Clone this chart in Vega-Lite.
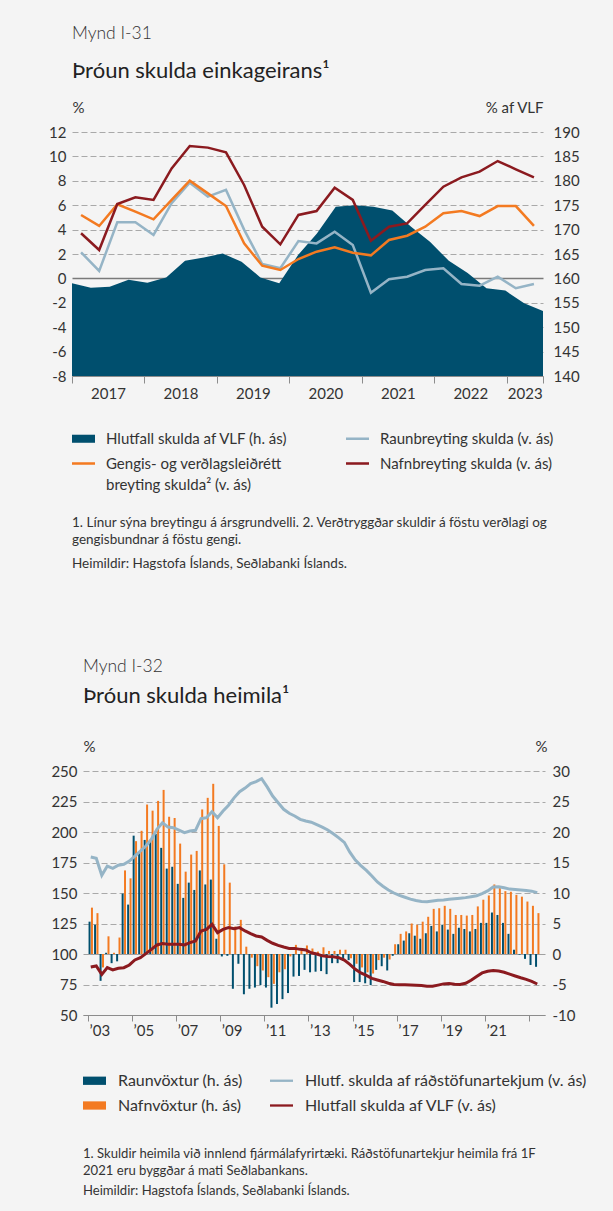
{
  "$schema": "https://vega.github.io/schema/vega-lite/v6.json",
  "background": "#f4f4f4",
  "padding": {"left": 48, "top": 24, "right": 40, "bottom": 40},
  "config": {
    "font": "Lato",
    "view": {"stroke": null},
    "locale": {"number": {"decimal": ".", "thousands": ",", "grouping": [3], "currency": ["", ""], "minus": "-"}},
    "axis": {"grid": false, "labelColor": "#333333", "titleColor": "#333333", "labelFontSize": 15, "titleFontSize": 15, "titleFontWeight": "normal", "labelOverlap": false},
    "legend": {"labelColor": "#333333", "labelFontSize": 15, "labelLimit": 400}
  },
  "datasets": {
    "p1": [
      {"q": "2017Q1", "t": 2017.125, "gdp": 159.0, "real": 2.14, "adj": 5.20, "nom": 3.70},
      {"q": "2017Q2", "t": 2017.375, "gdp": 158.1, "real": 0.61, "adj": 4.30, "nom": 2.33},
      {"q": "2017Q3", "t": 2017.625, "gdp": 158.3, "real": 4.60, "adj": 6.07, "nom": 6.10},
      {"q": "2017Q4", "t": 2017.875, "gdp": 159.7, "real": 4.60, "adj": 5.47, "nom": 6.65},
      {"q": "2018Q1", "t": 2018.125, "gdp": 159.1, "real": 3.56, "adj": 4.84, "nom": 6.43},
      {"q": "2018Q2", "t": 2018.375, "gdp": 160.2, "real": 6.16, "adj": 6.43, "nom": 9.02},
      {"q": "2018Q3", "t": 2018.625, "gdp": 163.6, "real": 7.84, "adj": 8.01, "nom": 10.85},
      {"q": "2018Q4", "t": 2018.875, "gdp": 164.3, "real": 6.70, "adj": 6.97, "nom": 10.72},
      {"q": "2019Q1", "t": 2019.125, "gdp": 165.1, "real": 7.25, "adj": 5.93, "nom": 10.33},
      {"q": "2019Q2", "t": 2019.375, "gdp": 163.4, "real": 4.00, "adj": 2.87, "nom": 7.66},
      {"q": "2019Q3", "t": 2019.625, "gdp": 160.2, "real": 1.18, "adj": 1.04, "nom": 4.24},
      {"q": "2019Q4", "t": 2019.875, "gdp": 159.0, "real": 0.83, "adj": 0.69, "nom": 2.79},
      {"q": "2020Q1", "t": 2020.125, "gdp": 164.8, "real": 3.06, "adj": 1.59, "nom": 5.20},
      {"q": "2020Q2", "t": 2020.375, "gdp": 169.2, "real": 2.87, "adj": 2.19, "nom": 5.52},
      {"q": "2020Q3", "t": 2020.625, "gdp": 174.7, "real": 3.83, "adj": 2.55, "nom": 7.44},
      {"q": "2020Q4", "t": 2020.875, "gdp": 175.0, "real": 2.74, "adj": 2.11, "nom": 6.43},
      {"q": "2021Q1", "t": 2021.125, "gdp": 174.7, "real": -1.17, "adj": 1.89, "nom": 3.09},
      {"q": "2021Q2", "t": 2021.375, "gdp": 173.9, "real": -0.07, "adj": 3.15, "nom": 4.24},
      {"q": "2021Q3", "t": 2021.625, "gdp": 170.6, "real": 0.14, "adj": 3.50, "nom": 4.51},
      {"q": "2021Q4", "t": 2021.875, "gdp": 167.5, "real": 0.69, "adj": 4.24, "nom": 6.02},
      {"q": "2022Q1", "t": 2022.125, "gdp": 163.6, "real": 0.83, "adj": 5.34, "nom": 7.52},
      {"q": "2022Q2", "t": 2022.375, "gdp": 161.1, "real": -0.46, "adj": 5.52, "nom": 8.28},
      {"q": "2022Q3", "t": 2022.625, "gdp": 158.0, "real": -0.60, "adj": 5.11, "nom": 8.75},
      {"q": "2022Q4", "t": 2022.875, "gdp": 157.5, "real": 0.14, "adj": 5.93, "nom": 9.62},
      {"q": "2023Q1", "t": 2023.125, "gdp": 154.9, "real": -0.81, "adj": 5.93, "nom": 8.94},
      {"q": "2023Q2", "t": 2023.375, "gdp": 153.3, "real": -0.46, "adj": 4.30, "nom": 8.28}
    ],
    "p2": [
      {"t": 2003.125, "rv": 5.3, "nv": 7.6, "hr": 179.5, "vlf": 89.3},
      {"t": 2003.375, "rv": 4.8, "nv": 6.7, "hr": 178.4, "vlf": 90.2},
      {"t": 2003.625, "rv": -4.4, "nv": -2.2, "hr": 164.5, "vlf": 83.3},
      {"t": 2003.875, "rv": 0.2, "nv": 2.9, "hr": 172.1, "vlf": 88.8},
      {"t": 2004.125, "rv": -1.5, "nv": 0.2, "hr": 170.2, "vlf": 86.9},
      {"t": 2004.375, "rv": -1.2, "nv": 2.7, "hr": 172.7, "vlf": 88.3},
      {"t": 2004.625, "rv": 9.9, "nv": 13.7, "hr": 173.5, "vlf": 88.8},
      {"t": 2004.875, "rv": 8.1, "nv": 12.4, "hr": 176.2, "vlf": 91.0},
      {"t": 2005.125, "rv": 19.4, "nv": 18.5, "hr": 180.3, "vlf": 95.1},
      {"t": 2005.375, "rv": 16.8, "nv": 20.2, "hr": 184.4, "vlf": 97.0},
      {"t": 2005.625, "rv": 18.7, "nv": 24.5, "hr": 188.5, "vlf": 100.3},
      {"t": 2005.875, "rv": 18.7, "nv": 23.5, "hr": 194.0, "vlf": 103.8},
      {"t": 2006.125, "rv": 19.7, "nv": 25.1, "hr": 202.2, "vlf": 107.4},
      {"t": 2006.375, "rv": 17.4, "nv": 26.9, "hr": 207.6, "vlf": 108.5},
      {"t": 2006.625, "rv": 14.0, "nv": 22.5, "hr": 204.1, "vlf": 108.0},
      {"t": 2006.875, "rv": 14.3, "nv": 22.3, "hr": 203.5, "vlf": 108.0},
      {"t": 2007.125, "rv": 11.5, "nv": 18.1, "hr": 201.6, "vlf": 108.0},
      {"t": 2007.375, "rv": 9.2, "nv": 13.5, "hr": 199.5, "vlf": 107.4},
      {"t": 2007.625, "rv": 11.7, "nv": 16.3, "hr": 200.8, "vlf": 109.3},
      {"t": 2007.875, "rv": 10.5, "nv": 16.9, "hr": 201.4, "vlf": 110.7},
      {"t": 2008.125, "rv": 13.7, "nv": 23.7, "hr": 210.9, "vlf": 118.9},
      {"t": 2008.375, "rv": 11.4, "nv": 25.6, "hr": 211.7, "vlf": 120.2},
      {"t": 2008.625, "rv": 12.2, "nv": 27.9, "hr": 216.6, "vlf": 124.3},
      {"t": 2008.875, "rv": 2.5, "nv": 21.0, "hr": 211.7, "vlf": 117.5},
      {"t": 2009.125, "rv": -0.4, "nv": 14.7, "hr": 217.2, "vlf": 120.2},
      {"t": 2009.375, "rv": -0.3, "nv": 11.7, "hr": 222.0, "vlf": 121.6},
      {"t": 2009.625, "rv": -5.7, "nv": 4.5, "hr": 228.0, "vlf": 120.7},
      {"t": 2009.875, "rv": -1.6, "nv": 5.6, "hr": 233.0, "vlf": 121.6},
      {"t": 2010.125, "rv": -6.6, "nv": 1.2, "hr": 236.0, "vlf": 118.9},
      {"t": 2010.375, "rv": -5.7, "nv": -0.6, "hr": 239.6, "vlf": 116.7},
      {"t": 2010.625, "rv": -5.5, "nv": -2.0, "hr": 241.3, "vlf": 114.8},
      {"t": 2010.875, "rv": -5.1, "nv": -2.7, "hr": 243.7, "vlf": 114.0},
      {"t": 2011.125, "rv": -5.5, "nv": -3.8, "hr": 237.0, "vlf": 111.2},
      {"t": 2011.375, "rv": -8.8, "nv": -4.9, "hr": 229.5, "vlf": 108.8},
      {"t": 2011.625, "rv": -8.2, "nv": -3.0, "hr": 224.0, "vlf": 107.1},
      {"t": 2011.875, "rv": -7.4, "nv": -2.5, "hr": 218.6, "vlf": 105.7},
      {"t": 2012.125, "rv": -6.4, "nv": -0.4, "hr": 215.3, "vlf": 104.6},
      {"t": 2012.375, "rv": -3.7, "nv": 1.5, "hr": 213.1, "vlf": 104.6},
      {"t": 2012.625, "rv": -3.6, "nv": 0.5, "hr": 210.4, "vlf": 103.8},
      {"t": 2012.875, "rv": -2.6, "nv": 1.4, "hr": 209.0, "vlf": 103.3},
      {"t": 2013.125, "rv": -3.0, "nv": 0.9, "hr": 208.0, "vlf": 101.0},
      {"t": 2013.375, "rv": -2.9, "nv": 0.4, "hr": 206.0, "vlf": 100.0},
      {"t": 2013.625, "rv": -2.8, "nv": 1.1, "hr": 204.0, "vlf": 98.5},
      {"t": 2013.875, "rv": -3.3, "nv": 0.5, "hr": 201.6, "vlf": 98.0},
      {"t": 2014.125, "rv": -1.5, "nv": 0.5, "hr": 198.5, "vlf": 97.7},
      {"t": 2014.375, "rv": -1.5, "nv": 0.7, "hr": 195.2, "vlf": 97.0},
      {"t": 2014.625, "rv": -1.1, "nv": 0.7, "hr": 191.5, "vlf": 95.0},
      {"t": 2014.875, "rv": -1.0, "nv": -0.7, "hr": 183.5, "vlf": 91.5},
      {"t": 2015.125, "rv": -4.6, "nv": -1.6, "hr": 177.0, "vlf": 87.5},
      {"t": 2015.375, "rv": -4.6, "nv": -2.2, "hr": 172.5, "vlf": 84.5},
      {"t": 2015.625, "rv": -4.8, "nv": -3.0, "hr": 168.5, "vlf": 82.5},
      {"t": 2015.875, "rv": -5.1, "nv": -3.2, "hr": 164.0, "vlf": 80.0},
      {"t": 2016.125, "rv": -2.6, "nv": -1.0, "hr": 159.0, "vlf": 78.7},
      {"t": 2016.375, "rv": -2.0, "nv": -0.6, "hr": 155.5, "vlf": 77.5},
      {"t": 2016.625, "rv": -2.7, "nv": -0.9, "hr": 152.5, "vlf": 76.0},
      {"t": 2016.875, "rv": -0.3, "nv": 1.6, "hr": 150.0, "vlf": 75.0},
      {"t": 2017.125, "rv": 1.6, "nv": 3.3, "hr": 148.0, "vlf": 74.8},
      {"t": 2017.375, "rv": 2.2, "nv": 3.7, "hr": 146.5, "vlf": 74.7},
      {"t": 2017.625, "rv": 3.4, "nv": 5.0, "hr": 145.0, "vlf": 74.5},
      {"t": 2017.875, "rv": 3.0, "nv": 4.8, "hr": 143.8, "vlf": 74.3},
      {"t": 2018.125, "rv": 2.5, "nv": 5.3, "hr": 143.0, "vlf": 74.1},
      {"t": 2018.375, "rv": 3.4, "nv": 6.1, "hr": 142.9, "vlf": 73.6},
      {"t": 2018.625, "rv": 4.6, "nv": 7.4, "hr": 143.5, "vlf": 73.5},
      {"t": 2018.875, "rv": 3.7, "nv": 7.5, "hr": 144.0, "vlf": 74.5},
      {"t": 2019.125, "rv": 4.8, "nv": 7.9, "hr": 144.3, "vlf": 75.5},
      {"t": 2019.375, "rv": 4.0, "nv": 7.4, "hr": 144.8, "vlf": 75.8},
      {"t": 2019.625, "rv": 3.3, "nv": 6.4, "hr": 145.2, "vlf": 75.2},
      {"t": 2019.875, "rv": 4.3, "nv": 6.4, "hr": 145.7, "vlf": 75.0},
      {"t": 2020.125, "rv": 4.1, "nv": 6.3, "hr": 146.2, "vlf": 76.0},
      {"t": 2020.375, "rv": 3.7, "nv": 6.4, "hr": 147.0, "vlf": 78.5},
      {"t": 2020.625, "rv": 4.1, "nv": 7.8, "hr": 147.8, "vlf": 81.5},
      {"t": 2020.875, "rv": 5.1, "nv": 8.9, "hr": 149.5, "vlf": 84.5},
      {"t": 2021.125, "rv": 5.1, "nv": 9.6, "hr": 151.7, "vlf": 85.9},
      {"t": 2021.375, "rv": 6.8, "nv": 11.4, "hr": 154.9, "vlf": 86.5},
      {"t": 2021.625, "rv": 6.4, "nv": 10.8, "hr": 155.2, "vlf": 86.0},
      {"t": 2021.875, "rv": 5.1, "nv": 10.3, "hr": 154.3, "vlf": 85.0},
      {"t": 2022.125, "rv": 3.3, "nv": 10.2, "hr": 153.2, "vlf": 83.5},
      {"t": 2022.375, "rv": 0.7, "nv": 9.7, "hr": 152.8, "vlf": 82.0},
      {"t": 2022.625, "rv": -0.1, "nv": 9.4, "hr": 152.4, "vlf": 80.5},
      {"t": 2022.875, "rv": -0.8, "nv": 8.6, "hr": 152.0, "vlf": 79.2},
      {"t": 2023.125, "rv": -1.8, "nv": 7.9, "hr": 151.5, "vlf": 77.5},
      {"t": 2023.375, "rv": -2.1, "nv": 6.7, "hr": 150.3, "vlf": 75.4}
    ]
  },
  "spacing": 87,
  "resolve": {"scale": {"color": "independent"}, "legend": {"color": "independent"}},
  "vconcat": [
    {
      "title": {"text": "Mynd I-31", "subtitle": "Þróun skulda einkageirans¹", "anchor": "start", "frame": "group", "fontSize": 17.5, "fontWeight": 300, "color": "#333333", "subtitleFontSize": 22, "subtitleColor": "#222222", "subtitlePadding": 19, "offset": 18},
      "resolve": {"scale": {"color": "independent"}, "legend": {"color": "independent"}},
      "vconcat": [
        {
          "title": {"text": ["1. Línur sýna breytingu á ársgrundvelli. 2. Verðtryggðar skuldir á föstu verðlagi og", "gengisbundnar á föstu gengi."], "subtitle": "Heimildir: Hagstofa Íslands, Seðlabanki Íslands.", "orient": "bottom", "anchor": "start", "frame": "group", "fontSize": 13.5, "fontWeight": "normal", "lineHeight": 17, "color": "#333333", "subtitleFontSize": 13.5, "subtitleColor": "#333333", "subtitlePadding": 10, "offset": 23},
          "resolve": {"scale": {"color": "independent"}, "legend": {"color": "independent"}},
          "vconcat": [
            {
              "width": 471,
              "height": 244,
              "data": {"name": "p1"},
              "layer": [
                {
                  "mark": {"type": "area"},
                  "encoding": {
                    "x": {"field": "q", "type": "ordinal", "scale": {"type": "point", "padding": 0}, "axis": null},
                    "y": {"field": "gdp", "type": "quantitative", "scale": {"domain": [140, 190], "nice": false, "zero": false},
                      "axis": {"orient": "right", "values": [140, 145, 150, 155, 160, 165, 170, 175, 180, 185, 190], "domain": false, "ticks": false, "labelPadding": 10, "title": "% af VLF", "titleAngle": 0, "titleAlign": "right", "titleBaseline": "alphabetic", "titleX": 0, "titleY": -20}},
                    "y2": {"datum": 140},
                    "color": {"datum": "gdp", "type": "nominal",
                      "scale": {"domain": ["gdp", "real", "adj", "nom"], "range": ["#004f6e", "#95b4c6", "#f37a21", "#8b1a1f"]},
                      "legend": {"orient": "bottom", "direction": "horizontal", "columns": 2, "title": null, "symbolSize": 529, "labelOffset": 11, "rowPadding": 5, "columnPadding": 58, "offset": 26, "symbolStrokeWidth": 0,
                        "labelExpr": "datum.value == 'gdp' ? 'Hlutfall skulda af VLF (h. ás)' : datum.value == 'real' ? 'Raunbreyting skulda (v. ás)' : datum.value == 'adj' ? ['Gengis- og verðlagsleiðrétt', 'breyting skulda² (v. ás)'] : 'Nafnbreyting skulda (v. ás)'",
                        "encode": {
                          "symbols": {"update": {
                            "shape": {"signal": "datum.value == 'gdp' ? 'M-1,-0.35H1V0.35H-1Z' : 'M-1,-0.11H1V0.11H-1Z'"},
                            "fill": {"signal": "datum.value == 'gdp' ? '#004f6e' : datum.value == 'real' ? '#95b4c6' : datum.value == 'adj' ? '#f37a21' : '#8b1a1f'"},
                            "opacity": {"value": 1}}},
                          "labels": {"update": {"lineHeight": {"value": 21}}}
                        }}}
                  }
                },
                {
                  "layer": [
                    {
                      "mark": {"type": "line", "strokeWidth": 2.5},
                      "encoding": {
                        "x": {"field": "t", "type": "quantitative", "scale": {"domain": [2017, 2023.5], "nice": false, "zero": false},
                          "axis": {"values": [2017, 2018, 2019, 2020, 2021, 2022, 2023, 2023.5], "labelExpr": "datum.value % 1 == 0 ? format(datum.value, 'd') : ''", "labelOffset": {"condition": {"test": "datum.value == 2023", "value": 18}, "value": 36}, "labelFlush": false, "tickSize": 7, "tickColor": "#8c8c8c", "domainColor": "#8c8c8c", "grid": false, "title": null, "labelPadding": 3, "zindex": 1}},
                        "y": {"field": "real", "type": "quantitative", "scale": {"domain": [-8, 12], "nice": false, "zero": false},
                          "axis": {"orient": "left", "values": [-8, -6, -4, -2, 0, 2, 4, 6, 8, 10, 12], "domain": false, "ticks": false, "labelPadding": 6, "grid": true,
                            "gridColor": {"condition": {"test": "datum.value == 0", "value": "#7a7a7a"}, "value": "#a9a9a9"},
                            "gridDash": {"condition": {"test": "datum.value == 0", "value": []}, "value": [6, 3]},
                            "gridWidth": {"condition": {"test": "datum.value == 0", "value": 1.5}, "value": 1.2},
                            "title": "%", "titleAngle": 0, "titleAlign": "left", "titleBaseline": "alphabetic", "titleX": 0, "titleY": -20}},
                        "color": {"datum": "real", "type": "nominal"}
                      }
                    },
                    {
                      "mark": {"type": "line", "strokeWidth": 2.5},
                      "encoding": {
                        "x": {"field": "t", "type": "quantitative"},
                        "y": {"field": "adj", "type": "quantitative",
                          "axis": {"orient": "left", "values": [-8, -6, -4, -2, 0, 2, 4, 6, 8, 10, 12], "domain": false, "ticks": false, "labelPadding": 6, "grid": true,
                            "gridColor": {"condition": {"test": "datum.value == 0", "value": "#7a7a7a"}, "value": "#a9a9a9"},
                            "gridDash": {"condition": {"test": "datum.value == 0", "value": []}, "value": [6, 3]},
                            "gridWidth": {"condition": {"test": "datum.value == 0", "value": 1.5}, "value": 1.2},
                            "title": "%", "titleAngle": 0, "titleAlign": "left", "titleBaseline": "alphabetic", "titleX": 0, "titleY": -20}},
                        "color": {"datum": "adj", "type": "nominal"}
                      }
                    },
                    {
                      "mark": {"type": "line", "strokeWidth": 2.5},
                      "encoding": {
                        "x": {"field": "t", "type": "quantitative"},
                        "y": {"field": "nom", "type": "quantitative",
                          "axis": {"orient": "left", "values": [-8, -6, -4, -2, 0, 2, 4, 6, 8, 10, 12], "domain": false, "ticks": false, "labelPadding": 6, "grid": true,
                            "gridColor": {"condition": {"test": "datum.value == 0", "value": "#7a7a7a"}, "value": "#a9a9a9"},
                            "gridDash": {"condition": {"test": "datum.value == 0", "value": []}, "value": [6, 3]},
                            "gridWidth": {"condition": {"test": "datum.value == 0", "value": 1.5}, "value": 1.2},
                            "title": "%", "titleAngle": 0, "titleAlign": "left", "titleBaseline": "alphabetic", "titleX": 0, "titleY": -20}},
                        "color": {"datum": "nom", "type": "nominal"}
                      }
                    }
                  ]
                }
              ],
              "resolve": {"scale": {"x": "independent", "y": "independent"}}
            }
          ]
        }
      ]
    },
    {
      "bounds": "flush",
      "spacing": 0,
      "resolve": {"scale": {"color": "independent"}, "legend": {"color": "independent"}},
      "hconcat": [
        {"width": 11, "height": 10, "data": {"values": []}, "mark": "point", "encoding": {}},
        {
          "title": {"text": "Mynd I-32", "subtitle": "Þróun skulda heimila¹", "anchor": "start", "frame": "group", "fontSize": 17.5, "fontWeight": 300, "color": "#333333", "subtitleFontSize": 22, "subtitleColor": "#222222", "subtitlePadding": 11, "offset": 32},
          "resolve": {"scale": {"color": "independent"}, "legend": {"color": "independent"}},
          "vconcat": [
            {
              "title": {"text": ["1. Skuldir heimila við innlend fjármálafyrirtæki. Ráðstöfunartekjur heimila frá 1F", "2021 eru byggðar á mati Seðlabankans."], "subtitle": "Heimildir: Hagstofa Íslands, Seðlabanki Íslands.", "orient": "bottom", "anchor": "start", "frame": "group", "fontSize": 13.1, "fontWeight": "normal", "lineHeight": 17, "color": "#333333", "subtitleFontSize": 13.1, "subtitleColor": "#333333", "subtitlePadding": 7, "offset": 34},
              "resolve": {"scale": {"color": "independent"}, "legend": {"color": "independent"}},
              "vconcat": [
                {
                  "width": 462,
                  "height": 244,
                  "data": {"name": "p2"},
                  "layer": [
                    {
                      "layer": [
                        {
                          "mark": {"type": "bar", "size": 2, "xOffset": -1.2, "orient": "vertical"},
                          "encoding": {
                            "x": {"field": "t", "type": "quantitative", "scale": {"domain": [2003, 2023.5], "nice": false, "zero": false},
                              "axis": {"values": [2003, 2004, 2005, 2006, 2007, 2008, 2009, 2010, 2011, 2012, 2013, 2014, 2015, 2016, 2017, 2018, 2019, 2020, 2021, 2022, 2023, 2023.5], "labelExpr": "datum.value % 2 == 1 && datum.value <= 2021 ? '’' + format(datum.value - 2000, '02d') : ''", "labelOffset": 11.3, "labelFlush": false, "tickSize": 6, "tickColor": "#8c8c8c", "domainColor": "#8c8c8c", "grid": false, "title": null, "labelPadding": 2, "zindex": 1}},
                            "y": {"field": "rv", "type": "quantitative", "scale": {"domain": [-10, 30], "nice": false},
                              "axis": {"orient": "right", "values": [-10, -5, 0, 5, 10, 15, 20, 25, 30], "domain": false, "ticks": false, "labelPadding": 7, "title": "%", "titleAngle": 0, "titleAlign": "right", "titleBaseline": "alphabetic", "titleX": 2, "titleY": -20}},
                            "color": {"datum": "rv", "type": "nominal",
                              "scale": {"domain": ["rv", "hr", "nv", "vlf"], "range": ["#004f6e", "#95b4c6", "#f37a21", "#8b1a1f"]},
                              "legend": {"orient": "bottom", "direction": "horizontal", "columns": 2, "title": null, "symbolSize": 529, "labelFontSize": 16, "labelOffset": 12, "rowPadding": 5, "columnPadding": 27, "offset": 31, "symbolStrokeWidth": 0,
                                "labelExpr": "datum.value == 'rv' ? 'Raunvöxtur (h. ás)' : datum.value == 'hr' ? 'Hlutf. skulda af ráðstöfunartekjum (v. ás)' : datum.value == 'nv' ? 'Nafnvöxtur (h. ás)' : 'Hlutfall skulda af VLF (v. ás)'",
                                "encode": {
                                  "symbols": {"update": {
                                    "shape": {"signal": "(datum.value == 'rv' || datum.value == 'nv') ? 'M-1,-0.36H1V0.36H-1Z' : 'M-1,-0.1H1V0.1H-1Z'"},
                                    "fill": {"signal": "datum.value == 'rv' ? '#004f6e' : datum.value == 'hr' ? '#95b4c6' : datum.value == 'nv' ? '#f37a21' : '#8b1a1f'"},
                                    "opacity": {"value": 1}}}
                                }}}
                          }
                        },
                        {
                          "mark": {"type": "bar", "size": 2, "xOffset": 1.2, "orient": "vertical"},
                          "encoding": {
                            "x": {"field": "t", "type": "quantitative"},
                            "y": {"field": "nv", "type": "quantitative",
                              "axis": {"orient": "right", "values": [-10, -5, 0, 5, 10, 15, 20, 25, 30], "domain": false, "ticks": false, "labelPadding": 7, "title": "%", "titleAngle": 0, "titleAlign": "right", "titleBaseline": "alphabetic", "titleX": 2, "titleY": -20}},
                            "color": {"datum": "nv", "type": "nominal"}
                          }
                        }
                      ]
                    },
                    {
                      "layer": [
                        {
                          "mark": {"type": "line", "strokeWidth": 3},
                          "encoding": {
                            "x": {"field": "t", "type": "quantitative"},
                            "y": {"field": "hr", "type": "quantitative", "scale": {"domain": [50, 250], "nice": false, "zero": false},
                              "axis": {"orient": "left", "values": [50, 75, 100, 125, 150, 175, 200, 225, 250], "domain": false, "ticks": false, "labelPadding": 6, "grid": true,
                                "gridColor": {"condition": {"test": "datum.value == 100", "value": "#a0a0a0"}, "value": "#a9a9a9"},
                                "gridDash": {"condition": {"test": "datum.value == 100", "value": []}, "value": [6, 3]},
                                "gridWidth": 1.2,
                                "title": "%", "titleAngle": 0, "titleAlign": "left", "titleBaseline": "alphabetic", "titleX": 0, "titleY": -20}},
                            "color": {"datum": "hr", "type": "nominal"}
                          }
                        },
                        {
                          "mark": {"type": "line", "strokeWidth": 3},
                          "encoding": {
                            "x": {"field": "t", "type": "quantitative"},
                            "y": {"field": "vlf", "type": "quantitative",
                              "axis": {"orient": "left", "values": [50, 75, 100, 125, 150, 175, 200, 225, 250], "domain": false, "ticks": false, "labelPadding": 6, "grid": true,
                                "gridColor": {"condition": {"test": "datum.value == 100", "value": "#a0a0a0"}, "value": "#a9a9a9"},
                                "gridDash": {"condition": {"test": "datum.value == 100", "value": []}, "value": [6, 3]},
                                "gridWidth": 1.2,
                                "title": "%", "titleAngle": 0, "titleAlign": "left", "titleBaseline": "alphabetic", "titleX": 0, "titleY": -20}},
                            "color": {"datum": "vlf", "type": "nominal"}
                          }
                        }
                      ]
                    }
                  ],
                  "resolve": {"scale": {"y": "independent"}}
                }
              ]
            }
          ]
        }
      ]
    }
  ]
}
